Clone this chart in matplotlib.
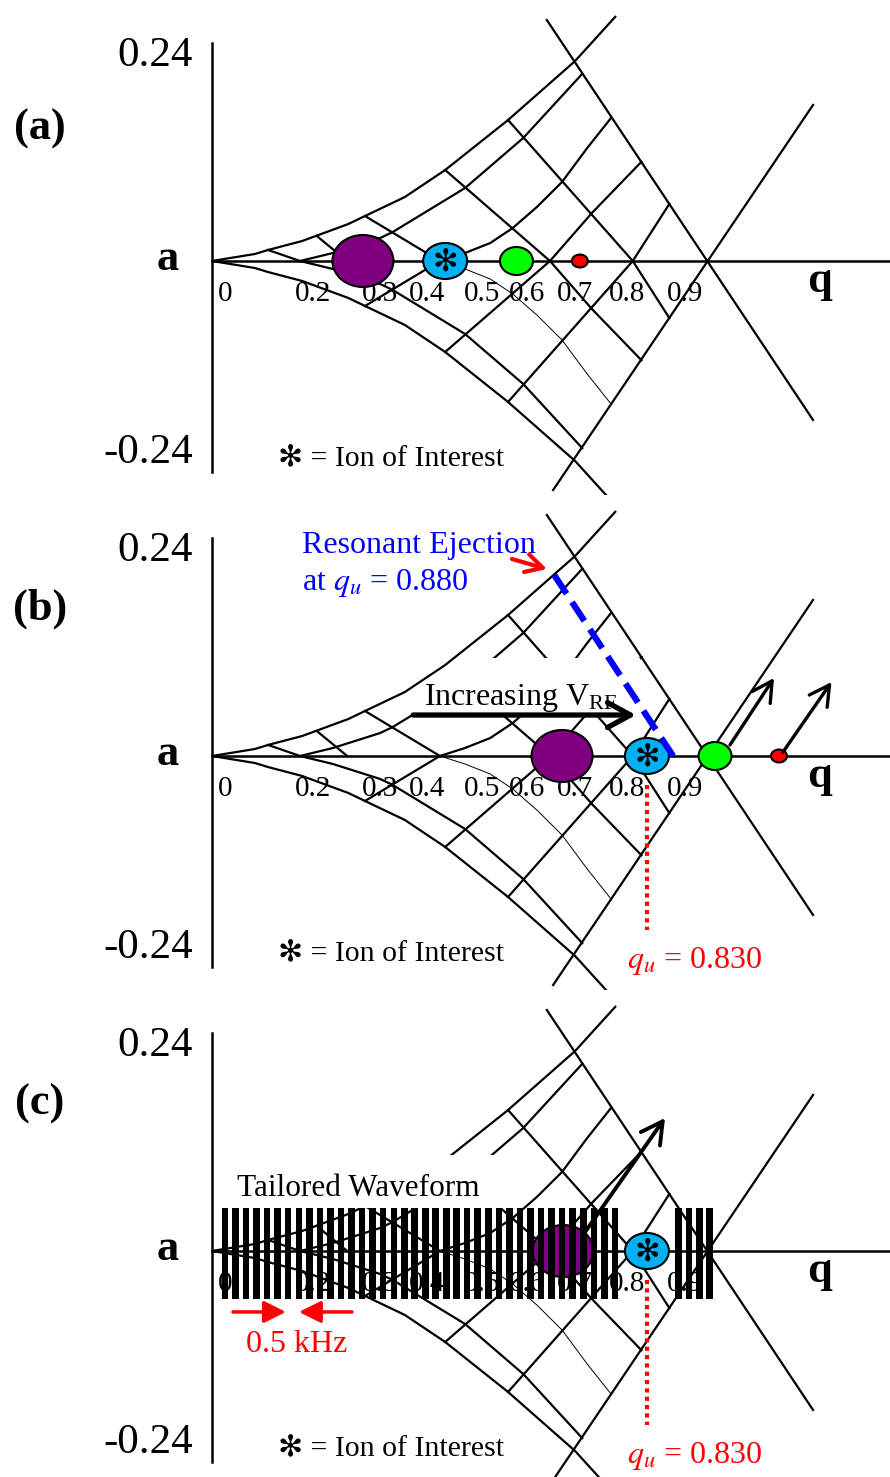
import matplotlib
matplotlib.use("Agg")
import matplotlib.pyplot as plt
from matplotlib.patches import Ellipse, Rectangle, FancyArrowPatch

plt.rcParams['font.family'] = ['Liberation Serif', 'DejaVu Sans']
plt.rcParams['mathtext.fontset'] = 'stix'

# ---------------- stability diagram, upper half (q, a) ----------------
# the lower half of the diagram is the mirror image about a = 0
U1_Q = [0.0, 0.082, 0.107, 0.172, 0.260, 0.292, 0.368, 0.445, 0.565, 0.693, 0.771]
U1_A = [0.0, 0.0077, 0.0121, 0.0219, 0.0405, 0.0493, 0.0701, 0.0997, 0.1545, 0.2192, 0.2685]
U2_Q = [0.168, 0.231, 0.321, 0.345, 0.483, 0.594, 0.708]
U2_A = [0.0, 0.0088, 0.0252, 0.0318, 0.0800, 0.1348, 0.2060]
U3_Q = [0.435, 0.483, 0.531, 0.574, 0.620, 0.668, 0.716, 0.763]
U3_A = [0.0, 0.0088, 0.0197, 0.0362, 0.0592, 0.0866, 0.1238, 0.1578]
U4_Q = [0.645, 0.725, 0.821]
U4_A = [0.0, 0.0526, 0.1096]
U5_Q = [0.803, 0.874]
U5_A = [0.0, 0.0636]

# iso-beta rungs: from the outer boundary down to the q axis
RUNG_Q0 = [0.107, 0.200, 0.292, 0.445, 0.565]
RUNG_A0 = [0.0121, 0.0274, 0.0493, 0.0997, 0.1545]
RUNG_Q1 = [0.168, 0.258, 0.435, 0.645, 0.803]
MIRRORED_RUNGS = [2, 3, 4]

# beta = 1 boundary lines, crossing on the q axis
LINE_A_Q = [0.639, 1.147]
LINE_A_A = [0.2641, -0.1742]
LINE_B_Q = [1.147, 0.651]
LINE_B_A = [0.1710, -0.2510]

# q-axis labels
TICK_TEXT = ['0', '0.2', '0.3', '0.4', '0.5', '0.6', '0.7', '0.8', '0.9']
TICK_Q = [0.025, 0.193, 0.321, 0.410, 0.515, 0.601, 0.693, 0.792, 0.903]

# ions: purple, blue (ion of interest), green, red
ION_NAMES = ['purple', 'blue', 'green', 'red']
IONS_A_Q = [0.288, 0.445, 0.581, 0.702]
IONS_B_Q = [0.668, 0.830, 0.960, 1.082]
IONS_C_Q = [0.670, 0.830]

# panel (b)
QU_EJECT = 0.880
EJECT_LINE_Q = [0.653, QU_EJECT]
EJECT_LINE_A = [0.1984, 0.0]
QU_INTEREST = 0.830
RAMP_Q = [0.384, 0.809]
RAMP_A = 0.0449
EJECTED_Q0 = [0.9885, 1.0897]
EJECTED_A0 = [0.0121, 0.0044]
EJECTED_Q1 = [1.0725, 1.1823]
EJECTED_A1 = [0.0855, 0.0811]
POINTER_Q = [0.5725, 0.6393]
POINTER_A = [0.2159, 0.2049]

# panel (c): tailored waveform frequency comb (notch at the ion of interest)
COMB_Q = [0.025, 0.045, 0.065, 0.085, 0.105, 0.125, 0.145, 0.166, 0.186, 0.206,
          0.226, 0.246, 0.266, 0.286, 0.306, 0.326, 0.347, 0.367, 0.387, 0.407,
          0.427, 0.447, 0.467, 0.487, 0.507, 0.528, 0.548, 0.568, 0.588, 0.608,
          0.628, 0.648, 0.668, 0.688, 0.709, 0.729, 0.749, 0.769,
          0.890, 0.910, 0.930, 0.950]
COMB_A = [-0.0526, 0.0471]
C_EJECT_Q = [0.712, 0.8645]
C_EJECT_A = [0.0208, 0.1458]
SPACING_RIGHT_Q = [0.040, 0.141]
SPACING_LEFT_Q = [0.267, 0.166]
SPACING_A = -0.0668

# ---------------- styling ----------------
ION_STYLE = {
    'purple': dict(color='#800080', w=0.1164, h=0.0570),
    'blue': dict(color='#00B0F0', w=0.0840, h=0.0395),
    'green': dict(color='#00FF00', w=0.0630, h=0.0307),
    'red': dict(color='#FF0000', w=0.0305, h=0.0142),
}
LW = 1.6
STAR = '\u273B'
BAR_W = 0.0126

W, H = 890, 1477
Q_LEFT, Q_RIGHT = -0.4046, 1.2939
A_PER_PX = 0.0010959
fig = plt.figure(figsize=(W / 100, H / 100), dpi=100)


def make_axes(top_px, height_px):
    ax = fig.add_axes([0, 1 - (top_px + height_px) / H, 1, height_px / H])
    ax.set_xlim(Q_LEFT, Q_RIGHT)
    ax.set_ylim(-(height_px - 261) * A_PER_PX, 261 * A_PER_PX)
    ax.axis('off')
    return ax


def draw_diagram(ax, outer_z=1):
    upper = [(U1_Q, U1_A), (U2_Q, U2_A), (U3_Q, U3_A), (U4_Q, U4_A), (U5_Q, U5_A)]
    lower_lw = [LW, LW, 0.7, LW, LW]
    for i, ((q, a), llw) in enumerate(zip(upper, lower_lw)):
        z = outer_z if i == 0 else 1
        ax.plot(q, a, color='black', lw=LW, zorder=z, solid_capstyle='butt')
        ax.plot(q, [-v for v in a], color='black', lw=llw, zorder=1,
                solid_capstyle='butt')
    for i, (q0, a0, q1) in enumerate(zip(RUNG_Q0, RUNG_A0, RUNG_Q1)):
        ax.plot([q0, q1], [a0, 0], color='black', lw=LW, zorder=1)
        if i in MIRRORED_RUNGS:
            ax.plot([q0, q1], [-a0, 0], color='black', lw=LW, zorder=1)
    ax.plot(LINE_A_Q, LINE_A_A, color='black', lw=LW, zorder=1)
    ax.plot(LINE_B_Q, LINE_B_A, color='black', lw=LW, zorder=1)
    # axes of the diagram
    ax.plot([0, 0], [-0.2312, 0.2389], color='black', lw=1.8, zorder=1)
    ax.plot([0, Q_RIGHT], [0, 0], color='black', lw=1.8, zorder=1)


def draw_labels(ax, tag, tag_a):
    for t, q in zip(TICK_TEXT, TICK_Q):
        ax.text(q, -0.0438, t, fontsize=21, ha='center', va='baseline', zorder=2.5)
    ax.text(-0.0363, 0.2137, '0.24', fontsize=31, ha='right', va='baseline')
    ax.text(-0.0363, -0.2214, '-0.24', fontsize=31, ha='right', va='baseline')
    ax.text(-0.084, -0.0099, 'a', fontsize=32, fontweight='bold', ha='center', va='baseline')
    ax.text(1.160, -0.034, 'q', fontsize=32, fontweight='bold', ha='center', va='baseline')
    ax.text(-0.328, tag_a, tag, fontsize=32, fontweight='bold', ha='center', va='baseline')
    ax.text(0.126, -0.2236, STAR + ' = Ion of Interest', fontsize=21.5,
            ha='left', va='baseline')


def draw_ions(ax, qs, names):
    for q, name in zip(qs, names):
        st = ION_STYLE[name]
        ax.add_patch(Ellipse((q, 0), st['w'], st['h'], facecolor=st['color'],
                             edgecolor='black', lw=1.5, zorder=3))
        if name == 'blue':
            ax.text(q, -0.001, STAR, fontsize=22, ha='center', va='center',
                    family='DejaVu Sans', zorder=3.5)


def arrow(ax, p0, p1, style, ms, lw, color, z=5):
    ax.add_patch(FancyArrowPatch(p0, p1, arrowstyle=style, mutation_scale=ms,
                                 lw=lw, color=color, zorder=z,
                                 shrinkA=0, shrinkB=0))


# ---------------- panel (a) ----------------
ax_a = make_axes(0, 495)
draw_diagram(ax_a)
draw_labels(ax_a, '(a)', 0.1326)
draw_ions(ax_a, IONS_A_Q, ION_NAMES)

# ---------------- panel (b) ----------------
ax_b = make_axes(495, 495)
draw_diagram(ax_b, outer_z=2.2)
ax_b.add_patch(Rectangle((0.378, 0.0471), 0.817 - 0.378, 0.1074 - 0.0471,
                         facecolor='white', edgecolor='none', zorder=2))
draw_labels(ax_b, '(b)', 0.1501)
draw_ions(ax_b, IONS_B_Q, ION_NAMES)
ax_b.plot(EJECT_LINE_Q, EJECT_LINE_A, color='#0000FF', lw=4.5,
          dashes=(3.6, 1.6), solid_capstyle='butt', dash_capstyle='butt', zorder=4)
arrow(ax_b, (POINTER_Q[0], POINTER_A[0]), (POINTER_Q[1], POINTER_A[1]),
      '->,head_length=0.55,head_width=0.3', 22, 3.0, '#FF0000')
ax_b.text(0.1718, 0.2225, 'Resonant Ejection', fontsize=23, color='#0000FF',
          ha='left', va='baseline')
ax_b.text(0.1718, 0.1819, 'at $q_u$ = %.3f' % QU_EJECT, fontsize=23,
          color='#0000FF', ha='left', va='baseline')
ax_b.text(0.4046, 0.0559, r'Increasing V$_\mathregular{RF}$', fontsize=23,
          ha='left', va='baseline', zorder=4)
arrow(ax_b, (RAMP_Q[0], RAMP_A), (RAMP_Q[1], RAMP_A),
      '->,head_length=0.55,head_width=0.3', 30, 3.8, 'black')
for q0, a0, q1, a1 in zip(EJECTED_Q0, EJECTED_A0, EJECTED_Q1, EJECTED_A1):
    arrow(ax_b, (q0, a0), (q1, a1), '->,head_length=0.55,head_width=0.3',
          26, 2.4, 'black')
ax_b.plot([QU_INTEREST, QU_INTEREST], [-0.0318, -0.1907], color='#FF0000',
          lw=3, linestyle=(0, (1, 1)), zorder=4)
ax_b.text(0.792, -0.2323, '$q_u$ = %.3f' % QU_INTEREST, fontsize=23,
          color='#FF0000', ha='left', va='baseline')

# ---------------- panel (c) ----------------
ax_c = make_axes(990, 487)
draw_diagram(ax_c)
ax_c.add_patch(Rectangle((0.003, 0.0471), 0.569 - 0.003, 0.1052 - 0.0471,
                         facecolor='white', edgecolor='none', zorder=2))
draw_labels(ax_c, '(c)', 0.1501)
draw_ions(ax_c, IONS_C_Q, ION_NAMES[:2])
for q in COMB_Q:
    ax_c.add_patch(Rectangle((q - BAR_W / 2, COMB_A[0]), BAR_W, COMB_A[1] - COMB_A[0],
                             facecolor='black', edgecolor='none', zorder=4))
ax_c.text(0.0477, 0.0603, 'Tailored Waveform', fontsize=22.5, ha='left',
          va='baseline', zorder=4)
arrow(ax_c, (C_EJECT_Q[0], C_EJECT_A[0]), (C_EJECT_Q[1], C_EJECT_A[1]),
      '->,head_length=0.55,head_width=0.3', 28, 2.8, 'black')
arrow(ax_c, (SPACING_RIGHT_Q[0], SPACING_A), (SPACING_RIGHT_Q[1], SPACING_A),
      '-|>,head_length=0.6,head_width=0.3', 22, 2.5, '#FF0000')
arrow(ax_c, (SPACING_LEFT_Q[0], SPACING_A), (SPACING_LEFT_Q[1], SPACING_A),
      '-|>,head_length=0.6,head_width=0.3', 22, 2.5, '#FF0000')
ax_c.text(0.0649, -0.1107, '0.5 kHz', fontsize=23, color='#FF0000',
          ha='left', va='baseline')
ax_c.plot([QU_INTEREST, QU_INTEREST], [-0.0318, -0.1907], color='#FF0000',
          lw=3, linestyle=(0, (1, 1)), zorder=4)
ax_c.text(0.792, -0.2323, '$q_u$ = %.3f' % QU_INTEREST, fontsize=23,
          color='#FF0000', ha='left', va='baseline')

fig.savefig('out.png', dpi=100, facecolor='white')
